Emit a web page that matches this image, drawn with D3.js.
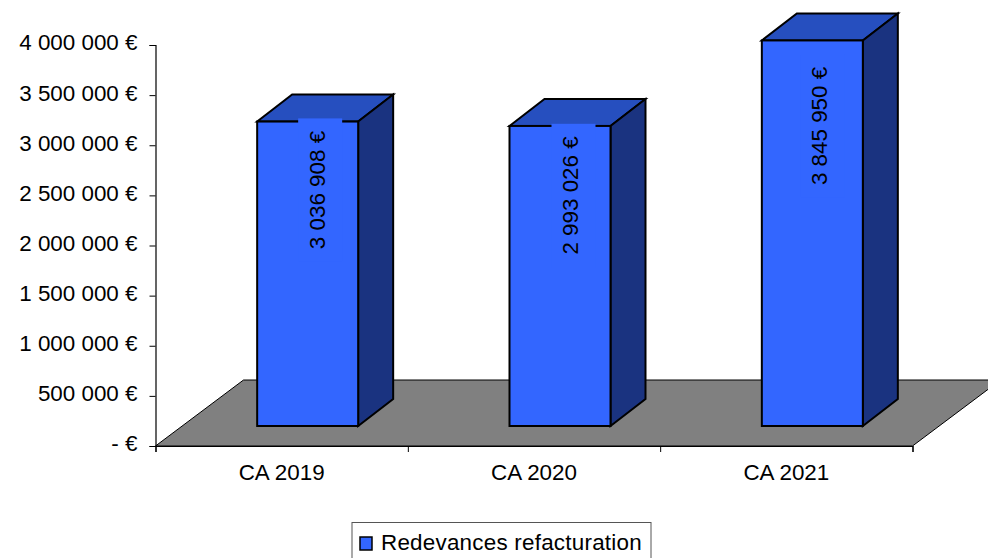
<!DOCTYPE html>
<html><head><meta charset="utf-8">
<script src="https://cdn.jsdelivr.net/npm/d3@7"></script>
<style>html,body{margin:0;padding:0;background:#fff}svg{display:block}text{font-family:"Liberation Sans",Arial,sans-serif;fill:#000}</style>
</head><body><div id="c"></div>
<script>
const categories=["CA 2019","CA 2020","CA 2021"];
const values=[3036908,2993026,3845950];
const valueLabels=["3 036 908 €","2 993 026 €","3 845 950 €"];
const tickValues=[0,500000,1000000,1500000,2000000,2500000,3000000,3500000,4000000];
const tickLabels=["- €","500 000 €","1 000 000 €","1 500 000 €","2 000 000 €","2 500 000 €","3 000 000 €","3 500 000 €","4 000 000 €"];
const seriesName="Redevances refacturation";
const labelOffsets=[68.5,69.5,85.5];
const labelShift=[9.5,10.5,7.5];

const W=988,H=558,FS=22.4;
const svg=d3.select("#c").append("svg").attr("width",W).attr("height",H);
const y=d3.scaleLinear().domain([0,4000000]).range([446,45]);
const x=d3.scaleBand().domain(categories).range([155.5,912.5]).paddingInner(0).paddingOuter(0);
const floorDx=88,floorDy=-66, barDx=35,barDy=-27, baseDx=26, baseDy=-20, barW=101;
const front="#3366ff",top_="#264fbf",side="#1a3380",floor="#808080";
const pts=a=>a.map(p=>p.join(",")).join(" ");

svg.append("polygon").attr("fill",floor).attr("stroke","#000").attr("stroke-width",1)
 .attr("points",pts([[155.5,446],[155.5+floorDx,446+floorDy],[1000.5,446+floorDy],[912.5,446]]));

const yAxis=d3.axisLeft(y).tickValues(tickValues).tickSize(6).tickPadding(12).tickFormat((d,i)=>tickLabels[i]);
const gy=svg.append("g").attr("transform","translate(155.5,0)").call(yAxis);
const xAxis=d3.axisBottom(d3.scaleLinear().domain([0,3]).range([155.5,912.5])).tickValues([0,1,2,3]).tickSize(6).tickFormat("");
const gx=svg.append("g").attr("transform","translate(0,446)").call(xAxis);
[gy,gx].forEach(g=>{g.selectAll("path").attr("stroke","#000").attr("stroke-width",1.2);g.selectAll("line").attr("stroke","#000");});
gy.selectAll("text").attr("font-size",FS).attr("fill","#000").attr("dy","0.22em").style("font-family",'"Liberation Sans",Arial,sans-serif');
svg.selectAll("text.cat").data(categories).join("text").attr("class","cat")
 .attr("x",d=>x(d)+x.bandwidth()/2).attr("y",480).attr("text-anchor","middle").attr("font-size",FS).text(d=>d);

const bars=svg.selectAll("g.bar").data(categories).join("g").attr("class","bar");
bars.each(function(c,i){
  const g=d3.select(this);
  const cx=x(c)+x.bandwidth()/2+baseDx;
  const l=cx-barW/2,r=cx+barW/2,b=y(0)+baseDy,t=y(values[i])+baseDy;
  const st=s=>s.attr("stroke","#000").attr("stroke-width",2).attr("stroke-linejoin","miter");
  st(g.append("polygon").attr("fill",top_).attr("points",pts([[l,t],[l+barDx,t+barDy],[r+barDx,t+barDy],[r,t]])));
  st(g.append("polygon").attr("fill",side).attr("points",pts([[r,t],[r+barDx,t+barDy],[r+barDx,b+barDy],[r,b]])));
  st(g.append("rect").attr("fill",front).attr("x",l).attr("y",t).attr("width",r-l).attr("height",b-t));
  const ly=t+labelOffsets[i], lx=cx+labelShift[i];
  const txt=g.append("text").attr("transform",`translate(${lx},${ly}) rotate(-90)`)
    .attr("text-anchor","middle").attr("dominant-baseline","central").attr("font-size",FS).text(valueLabels[i]);
  const len=txt.node().getComputedTextLength();
  g.insert("rect","text").attr("fill",front).attr("x",lx-19).attr("width",44).attr("y",ly-len/2-12.5).attr("height",len+25);
});

const lg=svg.append("g");
lg.append("rect").attr("x",352).attr("y",522.5).attr("width",299).attr("height",40).attr("fill","#fff").attr("stroke","#555").attr("stroke-width",1);
lg.append("rect").attr("x",360).attr("y",537).attr("width",12).attr("height",13).attr("fill",front).attr("stroke","#000").attr("stroke-width",1.5);
lg.append("text").attr("x",381).attr("y",550).attr("font-size",FS).attr("letter-spacing",0.24).text(seriesName);
</script></body></html>
